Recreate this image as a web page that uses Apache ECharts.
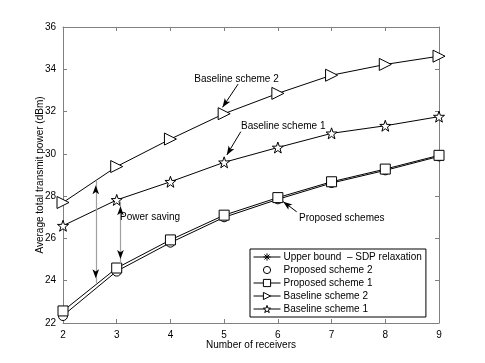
<!DOCTYPE html>
<html>
<head>
<meta charset="utf-8">
<script src="https://cdn.jsdelivr.net/npm/echarts@6/dist/echarts.min.js"></script>
<style>
  html, body { margin: 0; padding: 0; background: #fff; }
  #chart { width: 485px; height: 363px; }
</style>
</head>
<body>
<div id="chart"></div>
<script>
// data
const receivers = [2, 3, 4, 5, 6, 7, 8, 9]
const upperBound = [22.35, 24.45, 25.8, 27.0, 27.85, 28.62, 29.22, 29.88]
const proposed2 = [22.33, 24.43, 25.8, 27.0, 27.85, 28.62, 29.22, 29.88]
const proposed1 = [22.57, 24.6, 25.93, 27.1, 27.93, 28.68, 29.28, 29.93]
const baseline2 = [27.7, 29.4, 30.7, 31.9, 32.86, 33.72, 34.23, 34.62]
const baseline1 = [26.6, 27.82, 28.68, 29.6, 30.3, 30.97, 31.33, 31.76]
const seriesNames = ['Upper bound  \u2013 SDP relaxation', 'Proposed scheme 2', 'Proposed scheme 1', 'Baseline scheme 2', 'Baseline scheme 1']

const FONT = 'Liberation Sans'
const FS = 10
const pair = arr => receivers.map((x, i) => [x, arr[i]])

// marker shapes
const asterisk = 'path://M0,5L10,5M5,0L5,10M1.5,1.5L8.5,8.5M8.5,1.5L1.5,8.5'
const triRight = 'path://M0,0L10,5L0,10Z'
const star = 'path://M10,0L12.35,6.76L19.51,6.91L13.8,11.24L15.88,18.09L10,14L4.12,18.09L6.2,11.24L0.49,6.91L7.65,6.76Z'

const lineSeries = (name, data, symbol, size, showLine) => ({
  name: name,
  type: 'line',
  data: pair(data),
  symbol: symbol,
  symbolSize: size,
  showSymbol: true,
  lineStyle: { color: '#000', width: showLine ? 1 : 0 },
  itemStyle: { color: '#fff', borderColor: '#000', borderWidth: 1 },
  emphasis: { disabled: true },
  z: 3
})

// text notes and arrows, placed in data coordinates
const notes = [
  { text: 'Baseline scheme 2', at: [5.23, 33.54] },
  { text: 'Baseline scheme 1', at: [6.1, 31.3] },
  { text: 'Power saving', at: [3.62, 27.0] },
  { text: 'Proposed schemes', at: [7.19, 26.95] }
]
const pointers = [
  [[5.26, 33.3], [4.97, 32.2]],
  [[5.31, 31.05], [5.05, 29.95]],
  [[6.35, 27.26], [6.1, 27.74]]
]
const savings = [
  [2.61, 23.9, 28.73],
  [3.07, 24.82, 27.74]
]

const chart = echarts.init(document.getElementById('chart'))

const option = {
  animation: false,
  textStyle: { fontFamily: FONT },
  grid: { left: 63, right: 46, top: 27, bottom: 40, show: false },
  legend: {
    data: seriesNames.map((n, i) => ({
      name: n,
      lineStyle: { width: i === 1 ? 0 : 1 }
    })),
    orient: 'vertical',
    left: 250,
    top: 249,
    itemWidth: 27,
    itemHeight: 9,
    itemGap: 1,
    padding: [2, 4, 2, 3],
    backgroundColor: '#fff',
    borderColor: '#000',
    borderWidth: 1,
    borderRadius: 0,
    itemStyle: { borderWidth: 1 },
    textStyle: { fontFamily: FONT, fontSize: FS, lineHeight: 12, color: '#000', padding: [0, 0, 0, -2] }
  },
  xAxis: [
    {
      type: 'value', min: 2, max: 9, interval: 1,
      name: 'Number of receivers', nameLocation: 'middle', nameGap: 17, nameMoveOverlap: false,
      nameTextStyle: { fontFamily: FONT, fontSize: FS, color: '#000' },
      axisLine: { lineStyle: { color: '#808080' } },
      axisTick: { inside: true, length: 4, lineStyle: { color: '#808080' } },
      axisLabel: { fontFamily: FONT, fontSize: FS, color: '#000', margin: 7 },
      splitLine: { show: false }
    },
    {
      type: 'value', min: 2, max: 9, interval: 1, position: 'top',
      axisLine: { lineStyle: { color: '#808080' } },
      axisTick: { inside: true, length: 4, lineStyle: { color: '#808080' } },
      axisLabel: { show: false },
      splitLine: { show: false }
    }
  ],
  yAxis: [
    {
      type: 'value', min: 22, max: 36, interval: 2,
      name: 'Average total transmit power (dBm)', nameLocation: 'middle', nameGap: 18, nameMoveOverlap: false,
      nameTextStyle: { fontFamily: FONT, fontSize: FS, color: '#000' },
      axisLine: { show: true, lineStyle: { color: '#808080' } },
      axisTick: { show: true, inside: true, length: 4, lineStyle: { color: '#808080' } },
      axisLabel: { fontFamily: FONT, fontSize: FS, color: '#000', margin: 7 },
      splitLine: { show: false }
    },
    {
      type: 'value', min: 22, max: 36, interval: 2, position: 'right',
      axisLine: { show: true, lineStyle: { color: '#808080' } },
      axisTick: { show: true, inside: true, length: 4, lineStyle: { color: '#808080' } },
      axisLabel: { show: false },
      splitLine: { show: false }
    }
  ],
  series: [
    lineSeries(seriesNames[0], upperBound, asterisk, 9, true),
    lineSeries(seriesNames[1], proposed2, 'circle', 9, false),
    lineSeries(seriesNames[2], proposed1, 'rect', 10, true),
    lineSeries(seriesNames[3], baseline2, triRight, 12, true),
    lineSeries(seriesNames[4], baseline1, star, 11, true),
    {
      name: 'notes',
      type: 'line',
      data: [],
      silent: true,
      z: 2,
      markLine: {
        silent: true,
        animation: false,
        label: { show: false },
        emphasis: { disabled: true },
        data: pointers.map(p => [
          { coord: p[0], symbol: 'none', lineStyle: { color: '#000', width: 1, type: 'solid' } },
          { coord: p[1], symbol: 'arrow', symbolSize: [5, 9] }
        ]).concat(savings.map(s => [
          { coord: [s[0], s[1]], symbol: 'none', lineStyle: { color: '#a0a0a0', width: 1.2, type: 'solid' } },
          { coord: [s[0], s[2]], symbol: 'none' }
        ]))
      },
      markPoint: {
        silent: true,
        animation: false,
        data: notes.map(n => ({
          coord: n.at,
          symbol: 'circle',
          symbolSize: 1,
          itemStyle: { color: 'rgba(0,0,0,0)' },
          label: { show: true, position: 'inside', formatter: n.text, fontFamily: FONT, fontSize: FS, color: '#000' }
        })).concat(savings.flatMap(s => [
          {
            coord: [s[0], s[2]], symbol: 'arrow', symbolSize: [5, 9], symbolOffset: [0, '50%'],
            itemStyle: { color: '#000' }, label: { show: false }
          },
          {
            coord: [s[0], s[1]], symbol: 'arrow', symbolSize: [5, 9], symbolRotate: 180, symbolOffset: [0, '-50%'],
            itemStyle: { color: '#000' }, label: { show: false }
          }
        ]))
      }
    }
  ]
}

chart.setOption(option)
</script>
</body>
</html>
